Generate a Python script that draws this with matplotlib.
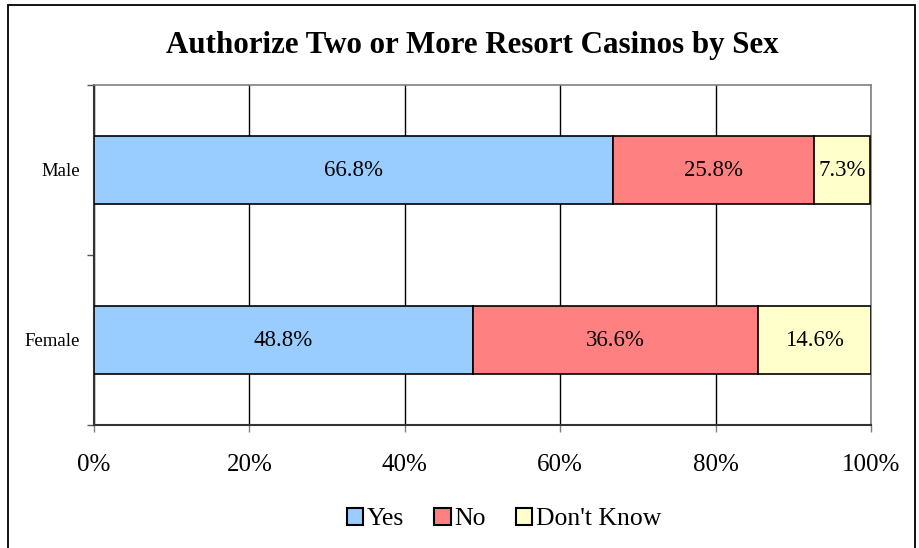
import matplotlib
matplotlib.use("Agg")
import matplotlib.pyplot as plt
from matplotlib.patches import Rectangle
from matplotlib.ticker import FixedLocator

categories = ["Male", "Female"]
series = ["Yes", "No", "Don't Know"]
yes = [66.8, 48.8]
no = [25.8, 36.6]
dont_know = [7.3, 14.6]
colors = ["#99CCFF", "#FF8080", "#FFFFCC"]
xticks = [0, 20, 40, 60, 80, 100]
xticklabels = ["0%", "20%", "40%", "60%", "80%", "100%"]

plt.rcParams['font.family'] = ['Liberation Serif', 'DejaVu Serif']

W, H = 919, 548
fig = plt.figure(figsize=(W / 100, H / 100), dpi=100)
fig.patch.set_facecolor("white")

# outer border
fig.patches.append(Rectangle((8 / W, -0.01), (915 - 8) / W, (H - 5) / H + 0.01,
                             transform=fig.transFigure, fill=False,
                             edgecolor="black", linewidth=1.3))

ax = fig.add_axes([94 / W, 1 - 425 / H, (871 - 94) / W, (425 - 85) / H])

ypos = [0, 1]
vals = [yes, no, dont_know]
left = [0, 0]
for s, v, c in zip(series, vals, colors):
    ax.barh(ypos, v, left=left, height=0.4, color=c, edgecolor="black",
            linewidth=1.2, label=s, zorder=3)
    for yy, l, val in zip(ypos, left, v):
        ax.text(l + val / 2, yy, f"{val:.1f}%", ha="center", va="center",
                fontsize=16.5, zorder=4)
    left = [a + b for a, b in zip(left, v)]

ax.set_xlim(0, 100)
ax.set_ylim(1.5, -0.5)
ax.set_xticks(xticks)
ax.set_xticklabels(xticklabels, fontsize=18)
ax.set_yticks(ypos)
ax.set_yticklabels(categories, fontsize=13.5)
ax.tick_params(axis="y", length=0, pad=10)
ax.yaxis.set_minor_locator(FixedLocator([-0.5, 0.5, 1.5]))
ax.tick_params(axis="y", which="minor", length=5, color="#555555", width=1)
ax.tick_params(axis="x", length=5, color="#808080", width=1, pad=16)
ax.grid(axis="x", color="black", linewidth=1, zorder=0)
for side in ["top", "right"]:
    ax.spines[side].set_color("#808080")
    ax.spines[side].set_linewidth(1.2)
for side in ["left", "bottom"]:
    ax.spines[side].set_color("#333333")
    ax.spines[side].set_linewidth(1.5)

fig.text(472 / W, 1 - 46 / H, "Authorize Two or More Resort Casinos by Sex",
         ha="center", va="center", fontsize=22.3, fontweight="bold")

leg = fig.legend(loc="center", bbox_to_anchor=(504 / W, 1 - 519 / H), ncol=3,
                 frameon=False, fontsize=18.5, handlelength=0.65, handleheight=0.65,
                 handletextpad=0.15, columnspacing=1.15)
for p in leg.get_patches():
    p.set_linewidth(1.5)

fig.savefig("out.png", dpi=100)
